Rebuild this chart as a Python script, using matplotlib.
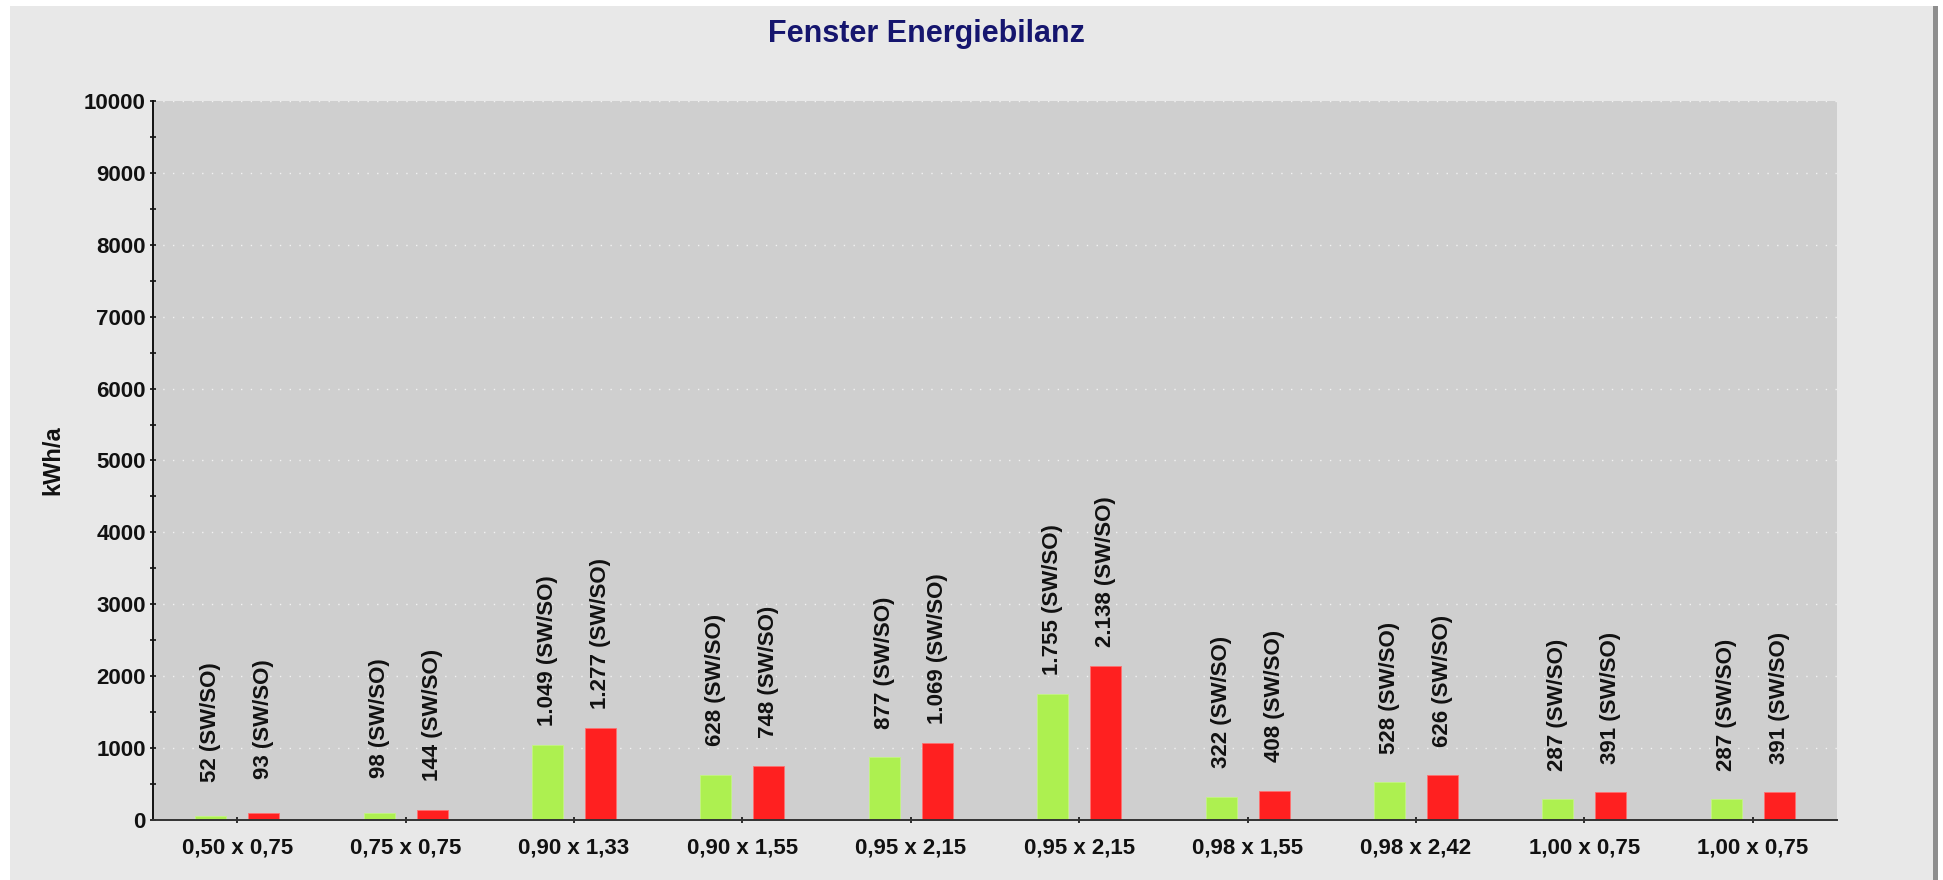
import matplotlib
matplotlib.use("Agg")
import matplotlib.pyplot as plt
from matplotlib.patches import Rectangle
from matplotlib.ticker import MultipleLocator
import numpy as np

plt.rcParams['font.family'] = ['Liberation Sans', 'DejaVu Sans']

title = "Fenster Energiebilanz"
ylabel = "kWh/a"
categories = ["0,50 x 0,75", "0,75 x 0,75", "0,90 x 1,33", "0,90 x 1,55", "0,95 x 2,15",
              "0,95 x 2,15", "0,98 x 1,55", "0,98 x 2,42", "1,00 x 0,75", "1,00 x 0,75"]
green_values = [52, 98, 1049, 628, 877, 1755, 322, 528, 287, 287]
red_values = [93, 144, 1277, 748, 1069, 2138, 408, 626, 391, 391]
label_suffix = " (SW/SO)"
y_max = 10000

W, H = 1943, 880
fig = plt.figure(figsize=(W / 100, H / 100), dpi=100, facecolor='white')

# panel background
fig.patches.append(Rectangle((10 / W, 0), (1933 - 10) / W, (H - 6) / H,
                             transform=fig.transFigure, facecolor='#e8e8e8',
                             edgecolor='none', zorder=-10))
fig.patches.append(Rectangle((1933 / W, 0), 5 / W, (H - 6) / H,
                             transform=fig.transFigure, facecolor='#8e8e8e',
                             edgecolor='none', zorder=-9))

ax = fig.add_axes([153 / W, 1 - 820 / H, (1837 - 153) / W, (820 - 101) / H])
ax.set_facecolor('#cfcfcf')

x = np.arange(len(categories))
off = 0.157
bw = 0.184
ax.bar(x - off, green_values, bw, color='#adf050', edgecolor='#c4f582', linewidth=0.6, zorder=3)
ax.bar(x + off, red_values, bw, color='#ff2020', edgecolor='#ff7070', linewidth=0.6, zorder=3)


def fmt(v):
    return f"{v:,}".replace(",", ".") + label_suffix


for xs, vals in ((x - off, green_values), (x + off, red_values)):
    for xi, v in zip(xs, vals):
        ax.annotate(fmt(v), xy=(xi, v), xytext=(0, 68), textcoords='offset points',
                    rotation=90, ha='center', va='center', fontsize=16,
                    fontweight='bold', color='#111111', zorder=4)

ax.set_xlim(-0.5, len(categories) - 0.5)
ax.set_ylim(0, y_max)
ax.yaxis.set_major_locator(MultipleLocator(1000))
ax.yaxis.set_minor_locator(MultipleLocator(500))
ax.set_xticks(x)
ax.set_xticklabels(categories)

ax.grid(axis='y', which='major', color='#f2f2f2', linestyle=(0, (1, 6)), linewidth=1.0, zorder=1)
ax.set_axisbelow(True)

for s in ('top', 'right'):
    ax.spines[s].set_visible(False)
ax.spines['left'].set_linewidth(1.4)
ax.spines['left'].set_color('#111111')
ax.spines['bottom'].set_linewidth(1.4)
ax.spines['bottom'].set_color('#333333')
ax.spines['left'].set_zorder(5)
ax.spines['bottom'].set_zorder(5)

ax.tick_params(axis='y', which='major', direction='inout', length=4.5, width=1.2,
               labelsize=16, pad=3, colors='#111111')
ax.tick_params(axis='y', which='minor', direction='inout', length=4.5, width=1.2, colors='#111111')
ax.tick_params(axis='x', which='major', direction='inout', length=5, width=1.2,
               labelsize=16, pad=10, colors='#111111')
for lab in ax.get_xticklabels() + ax.get_yticklabels():
    lab.set_fontweight('bold')

fig.text(52.5 / W, 1 - 460 / H, ylabel, rotation=90, ha='center', va='center',
         fontsize=17, fontweight='bold', color='#111111')
fig.text(926 / W, 1 - 42 / H, title, ha='center', va='baseline', fontsize=22,
         fontweight='bold', color='#15156e')

fig.savefig('out.png', dpi=100, facecolor=fig.get_facecolor())
